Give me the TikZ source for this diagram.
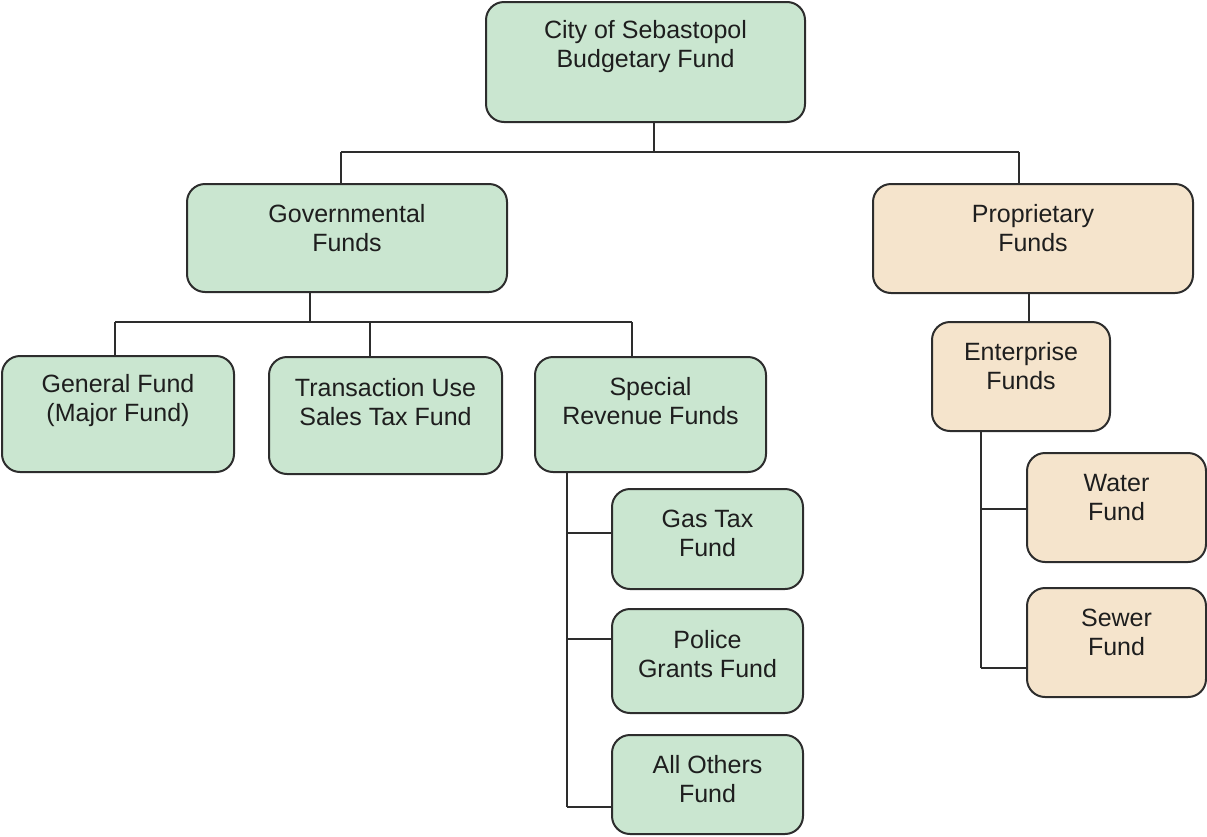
\documentclass[tikz,border=0pt]{standalone}
\usepackage{fontspec}
\setmainfont{Liberation Sans}
\definecolor{gfill}{RGB}{202,230,208}
\definecolor{tfill}{RGB}{245,228,204}
\definecolor{edge}{RGB}{45,45,45}
\definecolor{ink}{RGB}{30,30,30}
\tikzset{
  fundbox/.style={draw=edge, line width=2pt, rounded corners=18pt, inner sep=0pt},
  gbox/.style={fundbox, fill=gfill},
  tbox/.style={fundbox, fill=tfill},
  txt/.style={align=center, text=ink, font=\fontsize{25}{29}\selectfont, inner sep=0pt},
  conn/.style={draw=edge, line width=1.8pt}
}
\newcommand{\fundnode}[8]{%
  % #1 style, #2 name, #3 x1, #4 y1, #5 x2, #6 y2, #7 text shift, #8 text
  \node[#1, minimum width=#5-#3, minimum height=#6-#4] (#2) at ({(#3+#5)/2},{(#4+#6)/2}) {};
  \node[txt] (#2-t) at ([yshift=#7]#2.center) {#8};
}
\begin{document}
\begin{tikzpicture}[x=1pt,y=-1pt]
\useasboundingbox (0,0) rectangle (1207,836);
% connectors first
\coordinate (j1) at (654,152);
\coordinate (j1l) at (341,152);
\coordinate (j1r) at (1019,152);
\coordinate (j2) at (310,322);
\coordinate (j2a) at (115,322);
\coordinate (j2b) at (370,322);
\coordinate (j2c) at (632,322);
\coordinate (s0) at (567,472);
\coordinate (s1) at (567,533);
\coordinate (s2) at (567,639);
\coordinate (s3) at (567,807);
\coordinate (e0) at (981,431);
\coordinate (e1) at (981,509);
\coordinate (e2) at (981,668);

\fundnode{gbox}{top}{486}{2}{805}{122}{15pt}{City of Sebastopol\\Budgetary Fund}
\fundnode{gbox}{gov}{187}{184}{507}{292}{10pt}{Governmental\\Funds}
\fundnode{tbox}{prop}{873}{184}{1193}{293}{10pt}{Proprietary\\Funds}
\fundnode{gbox}{gen}{2}{356}{234}{472}{13pt}{General Fund\\(Major Fund)}
\fundnode{gbox}{trans}{269}{357}{502}{474}{13pt}{Transaction Use\\Sales Tax Fund}
\fundnode{gbox}{spec}{535}{357}{766}{472}{13pt}{Special\\Revenue Funds}
\fundnode{gbox}{gas}{612}{489}{803}{589}{6pt}{Gas Tax\\Fund}
\fundnode{gbox}{police}{612}{609}{803}{713}{7pt}{Police\\Grants Fund}
\fundnode{gbox}{others}{612}{735}{803}{834}{5pt}{All Others\\Fund}
\fundnode{tbox}{ent}{932}{322}{1110}{431}{10pt}{Enterprise\\Funds}
\fundnode{tbox}{water}{1027}{453}{1206}{562}{10pt}{Water\\Fund}
\fundnode{tbox}{sewer}{1027}{588}{1206}{697}{10pt}{Sewer\\Fund}

\draw[conn] (top.south -| j1) -- (j1);
\draw[conn] (j1l) -- (j1r);
\draw[conn] (j1l) -- (j1l |- gov.north);
\draw[conn] (j1r) -- (j1r |- prop.north);
\draw[conn] (gov.south -| j2) -- (j2);
\draw[conn] (j2a) -- (j2c);
\draw[conn] (j2a) -- (j2a |- gen.north);
\draw[conn] (j2b) -- (j2b |- trans.north);
\draw[conn] (j2c) -- (j2c |- spec.north);
\draw[conn] (spec.south -| s0) -- (s3);
\draw[conn] (s1) -- (s1 -| gas.west);
\draw[conn] (s2) -- (s2 -| police.west);
\draw[conn] (s3) -- (s3 -| others.west);
\draw[conn] (prop.south -| 1029,0) -- (ent.north -| 1029,0);
\draw[conn] (ent.south -| e0) -- (e2);
\draw[conn] (e1) -- (e1 -| water.west);
\draw[conn] (e2) -- (e2 -| sewer.west);
\end{tikzpicture}
\end{document}
